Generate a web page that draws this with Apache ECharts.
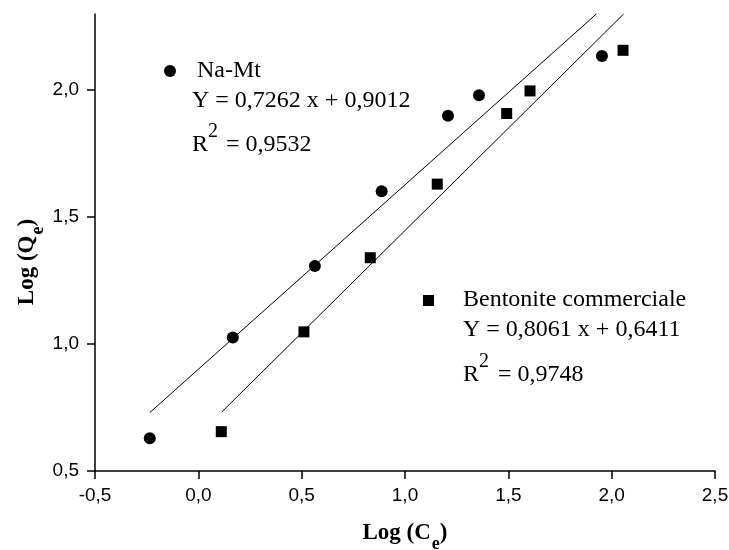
<!DOCTYPE html>
<html>
<head>
<meta charset="utf-8">
<script src="https://cdn.jsdelivr.net/npm/echarts@6/dist/echarts.min.js"></script>
<style>
  html, body { margin: 0; padding: 0; background: #fff; }
  #chart { width: 729px; height: 550px; }
</style>
</head>
<body>
<div id="chart"></div>
<script>
// Log(Ce) -> Log(Qe)
const naMtX = [-0.235, 0.167, 0.564, 0.887, 1.208, 1.358, 1.953]
const naMtY = [0.629, 1.026, 1.307, 1.602, 1.899, 1.980, 2.135]
const bentX = [0.111, 0.511, 0.832, 1.156, 1.492, 1.605, 2.055]
const bentY = [0.655, 1.048, 1.340, 1.630, 1.908, 1.997, 2.157]
// fit lines, ends as drawn in the figure
const naMtFitX = [-0.235, 1.926]
const naMtFitY = [0.730, 2.300]
const bentFitX = [0.114, 2.058]
const bentFitY = [0.733, 2.300]
// axis ticks
const xTicks = [-0.5, 0, 0.5, 1, 1.5, 2, 2.5]
const yTicks = [0.5, 1, 1.5, 2]

const zip = (xs, ys) => xs.map((x, i) => [x, ys[i]])
const comma = v => v.toFixed(1).replace('.', ',')

const SERIF = 'Liberation Serif'
const SANS = 'Liberation Sans'
const black = '#000'

const nameRich = {
  m: { fontFamily: SERIF, fontSize: 23, fontWeight: 'bold', color: black, verticalAlign: 'top', lineHeight: 26 },
  e: { fontFamily: SERIF, fontSize: 18, fontWeight: 'bold', color: black, verticalAlign: 'top', lineHeight: 18, padding: [13, 0, 0, 1] }
}

const axisCommon = {
  type: 'value',
  axisLine: { show: true, onZero: false, lineStyle: { color: black, width: 1.5 } },
  splitLine: { show: false },
  nameTextStyle: { fontFamily: SERIF, fontSize: 23, fontWeight: 'bold', color: black, rich: nameRich }
}

// annotation text helper
const txt = (x, y, text, size) => ({
  type: 'text', x: x, y: y,
  style: {
    text: text, fontFamily: SERIF, fontSize: size || 24, fill: black,
    verticalAlign: 'middle', textVerticalAlign: 'middle'
  }
})

let chart = echarts.init(document.getElementById('chart'))
chart.setOption({
  animation: false,
  backgroundColor: '#fff',
  grid: { left: 95, right: 14, top: 14, bottom: 79, outerBoundsMode: 'none', containLabel: false },
  xAxis: Object.assign({}, axisCommon, {
    min: -0.5,
    max: 2.5,
    interval: 0.5,
    axisTick: { show: true, length: 8, customValues: xTicks, lineStyle: { color: black, width: 1.5 } },
    axisLabel: { customValues: xTicks, formatter: comma, color: black, fontFamily: SANS, fontSize: 19, margin: 15 },
    name: '{m|Log (C}{e|e}{m|)}',
    nameLocation: 'middle',
    nameGap: 51
  }),
  yAxis: Object.assign({}, axisCommon, {
    min: 0.5,
    max: 2.3,
    interval: 0.5,
    axisTick: { show: true, length: 8, customValues: yTicks, lineStyle: { color: black, width: 1.5 } },
    axisLabel: { customValues: yTicks, formatter: comma, color: black, fontFamily: SANS, fontSize: 19, margin: 16 }
  }),
  graphic: [
    {
      type: 'text', x: 29, y: 262, rotation: Math.PI / 2,
      style: {
        text: '{m|Log (Q}{e|e}{m|)}',
        align: 'center', verticalAlign: 'middle',
        textAlign: 'center', textVerticalAlign: 'middle',
        rich: nameRich
      }
    },
    // Na-Mt legend
    { type: 'circle', shape: { cx: 170, cy: 71, r: 6 }, style: { fill: black } },
    txt(197, 71, 'Na-Mt'),
    txt(192, 101, 'Y = 0,7262 x + 0,9012'),
    txt(192, 145, 'R'),
    txt(208, 132, '2', 20),
    txt(226, 145, '= 0,9532'),
    // Bentonite legend
    { type: 'rect', shape: { x: 423, y: 295, width: 11, height: 11 }, style: { fill: black } },
    txt(463, 300, 'Bentonite commerciale'),
    txt(463, 330, 'Y = 0,8061 x + 0,6411'),
    txt(463, 375, 'R'),
    txt(479, 362, '2', 20),
    txt(498, 375, '= 0,9748')
  ],
  series: [
    {
      name: 'Na-Mt fit', type: 'line', data: zip(naMtFitX, naMtFitY),
      showSymbol: false, silent: true, lineStyle: { color: black, width: 1 }, z: 1
    },
    {
      name: 'Bentonite fit', type: 'line', data: zip(bentFitX, bentFitY),
      showSymbol: false, silent: true, lineStyle: { color: black, width: 1 }, z: 1
    },
    {
      name: 'Na-Mt', type: 'scatter', data: zip(naMtX, naMtY),
      symbol: 'circle', symbolSize: 12, itemStyle: { color: black, opacity: 1 }, z: 3
    },
    {
      name: 'Bentonite commerciale', type: 'scatter', data: zip(bentX, bentY),
      symbol: 'rect', symbolSize: 11, itemStyle: { color: black, opacity: 1 }, z: 3
    }
  ]
})
window.addEventListener('resize', () => { chart.resize() })
</script>
</body>
</html>
